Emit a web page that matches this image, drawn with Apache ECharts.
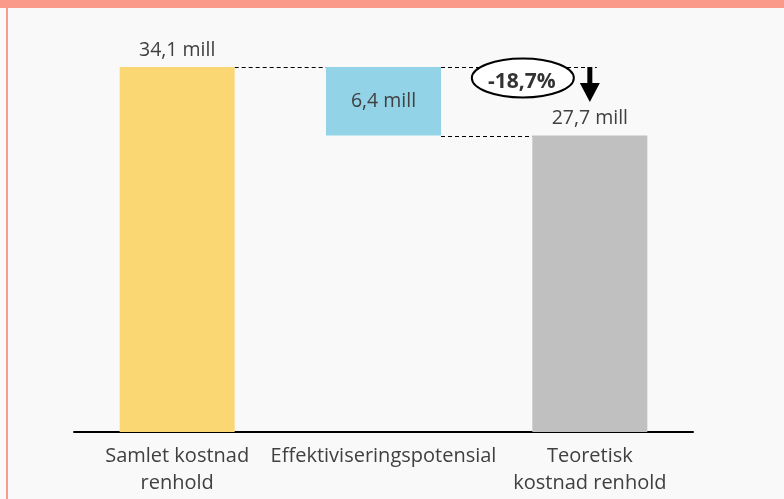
<!DOCTYPE html>
<html>
<head>
    <meta charset="utf-8"/>
    <title>Kostnad renhold</title>
    <script src="https://cdn.jsdelivr.net/npm/echarts@6/dist/echarts.min.js"></script>
    <style>
        body { margin: 0; background: #f9f9f9; }
        #frame { position: absolute; left: 0; top: 0; width: 784px; height: 499px; }
        #topbar { position: absolute; left: 0; top: 0; width: 784px; height: 8px; background: #f99a8a; }
        #leftbar { position: absolute; left: 6px; top: 0; width: 2px; height: 499px; background: #f99a8a; }
        #chart { position: absolute; left: 0; top: 0; width: 784px; height: 499px; }
    </style>
</head>
<body>
<div id="frame">
    <div id="chart"></div>
    <div id="topbar"></div>
    <div id="leftbar"></div>
</div>
<script type="text/javascript">
    // data
    var categories = ['Samlet kostnad\nrenhold', 'Effektiviseringspotensial', 'Teoretisk\nkostnad renhold'];
    var barValues = [34.1, 6.4, 27.7];
    var baseValues = [0, 27.7, 0];
    var valueLabels = ['34,1 mill', '6,4 mill', '27,7 mill'];
    var barColors = ['#fbd774', '#93d3e7', '#c0c0c0'];
    var changeLabel = '-18,7%';

    var font = '"Open Sans", "Noto Sans", sans-serif';
    var halfBar = 57.5;

    var chart = echarts.init(document.getElementById('chart'));

    // connector lines: [from index, to index, y value]
    var connectors = [[0, 1, 34.1], [1, 2.04, 34.1], [1, 2, 27.7]];

    var option = {
        animation: false,
        backgroundColor: '#f9f9f9',
        grid: { left: 74, right: 91, top: 67, bottom: 67 },
        xAxis: {
            type: 'category',
            data: categories,
            axisLine: { lineStyle: { color: '#000', width: 2 } },
            axisTick: { show: false },
            axisLabel: {
                color: '#404040', fontSize: 20, fontFamily: font,
                lineHeight: 27, margin: 11, interval: 0
            }
        },
        yAxis: {
            type: 'value', min: 0, max: 34.1,
            show: false, splitLine: { show: false }
        },
        series: [
            {
                type: 'bar', stack: 'w', barWidth: 115,
                itemStyle: { color: 'transparent' },
                data: baseValues, silent: true
            },
            {
                type: 'bar', stack: 'w', barWidth: 115,
                data: barValues.map(function (v, i) {
                    return {
                        value: v,
                        itemStyle: { color: barColors[i] },
                        label: {
                            show: true,
                            position: i === 1 ? 'inside' : 'top',
                            distance: i === 1 ? 0 : 7,
                            formatter: valueLabels[i],
                            color: '#404040', fontSize: 19.5, fontFamily: font
                        }
                    };
                })
            },
            {
                type: 'custom',
                data: connectors,
                z: 1,
                renderItem: function (params, api) {
                    var from = api.value(0), to = api.value(1), y = api.value(2);
                    var p1 = api.coord([Math.round(from), y]);
                    var p2 = api.coord([Math.floor(to), y]);
                    var x1 = p1[0] + halfBar;
                    var x2 = to % 1 === 0 ? p2[0] - halfBar : p2[0] + 7;
                    return {
                        type: 'line',
                        shape: { x1: x1, y1: Math.round(p1[1]) + 0.5, x2: x2, y2: Math.round(p1[1]) + 0.5 },
                        style: { stroke: '#000', lineWidth: 1, lineDash: [4, 3] }
                    };
                }
            }
        ]
    };
    chart.setOption(option);

    // annotation: ellipse with change and down arrow
    var pTop = chart.convertToPixel({ gridIndex: 0 }, [2, 34.1]);
    var ax = pTop[0], ay = pTop[1];
    chart.setOption({
        graphic: [
            {
                type: 'ellipse',
                shape: { cx: ax - 67, cy: ay + 11, rx: 51, ry: 19.5 },
                style: { fill: '#ffffff', stroke: '#000', lineWidth: 2 },
                z: 10
            },
            {
                type: 'text',
                x: ax - 68, y: ay + 15,
                style: {
                    text: changeLabel, fill: '#333333', font: 'bold 21px ' + font,
                    align: 'center', verticalAlign: 'middle'
                },
                z: 11
            },
            {
                type: 'rect',
                shape: { x: ax - 2.5, y: ay, width: 5, height: 18 },
                style: { fill: '#000' },
                z: 10
            },
            {
                type: 'polygon',
                shape: { points: [[ax - 10, ay + 16], [ax + 10, ay + 16], [ax, ay + 35]] },
                style: { fill: '#000' },
                z: 10
            }
        ]
    });
</script>
</body>
</html>
